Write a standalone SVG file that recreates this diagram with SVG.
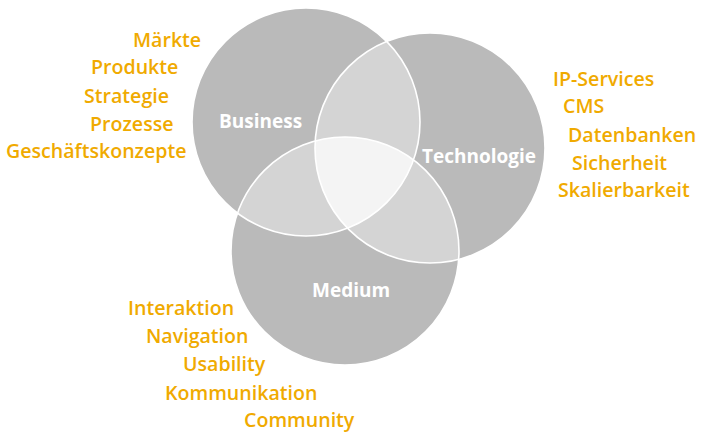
<svg xmlns="http://www.w3.org/2000/svg" width="702" height="435" viewBox="0 0 702 435">
<style>
.c{fill:#bababa}
.o{fill:none;stroke:#ffffff;stroke-width:1.6}
.lab{font-family:"Open Sans","Noto Sans",sans-serif;font-weight:bold;font-size:19px;fill:#ffffff}
.t{font-family:"Open Sans","Noto Sans",sans-serif;font-weight:600;font-size:19.6px;fill:#f0aa00}
</style>
<defs>
<clipPath id="cpB"><circle cx="306" cy="122" r="114"/></clipPath>
<clipPath id="cpT"><circle cx="430" cy="148" r="115"/></clipPath>
<clipPath id="cpM"><circle cx="345" cy="251" r="114"/></clipPath>
</defs>
<g id="circles">
<circle class="c" cx="306" cy="122" r="114"/>
<circle class="c" cx="430" cy="148" r="115"/>
<circle class="c" cx="345" cy="251" r="114"/>
<g clip-path="url(#cpB)">
<circle cx="430" cy="148" r="115" fill="#d4d4d4"/>
<circle cx="345" cy="251" r="114" fill="#d4d4d4"/>
</g>
<g clip-path="url(#cpT)">
<circle cx="345" cy="251" r="114" fill="#d4d4d4"/>
</g>
<g clip-path="url(#cpB)"><g clip-path="url(#cpT)">
<circle cx="345" cy="251" r="114" fill="#f4f4f4"/>
</g></g>
<circle class="o" cx="306" cy="122" r="114"/>
<circle class="o" cx="430" cy="148" r="115"/>
<circle class="o" cx="345" cy="251" r="114"/>
</g>
<g id="business">
<text class="lab" x="219" y="128">Business</text>
<text class="t" x="133" y="47">Märkte</text>
<text class="t" x="91" y="74">Produkte</text>
<text class="t" x="84" y="103">Strategie</text>
<text class="t" x="90" y="131">Prozesse</text>
<text class="t" x="6" y="158">Geschäftskonzepte</text>
</g>
<g id="technologie">
<text class="lab" x="422" y="163">Technologie</text>
<text class="t" x="553" y="86">IP-Services</text>
<text class="t" x="563" y="113">CMS</text>
<text class="t" x="568" y="142">Datenbanken</text>
<text class="t" x="572" y="170">Sicherheit</text>
<text class="t" x="558" y="197">Skalierbarkeit</text>
</g>
<g id="medium">
<text class="lab" x="312" y="297">Medium</text>
<text class="t" x="128" y="315">Interaktion</text>
<text class="t" x="146" y="343">Navigation</text>
<text class="t" x="183" y="371">Usability</text>
<text class="t" x="165" y="400">Kommunikation</text>
<text class="t" x="244" y="427">Community</text>
</g>
<g id="connectors"></g>
</svg>
